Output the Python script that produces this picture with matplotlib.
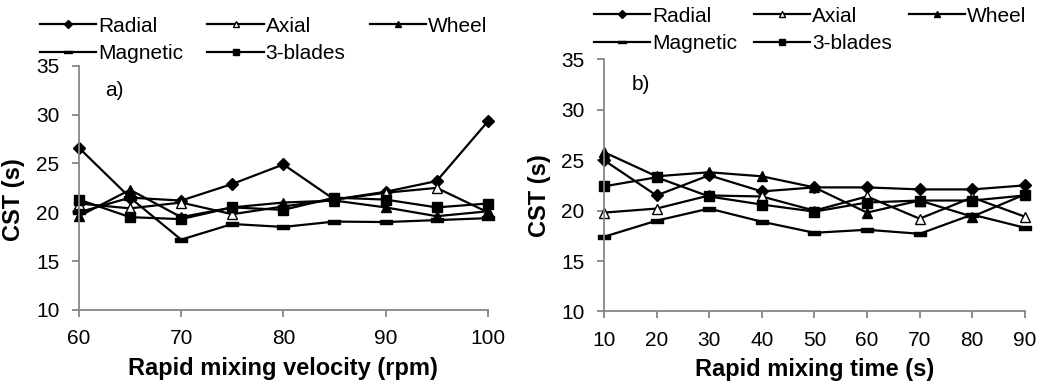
import matplotlib
matplotlib.use("Agg")
import matplotlib.pyplot as plt
from matplotlib.path import Path

plt.rcParams['font.family'] = ['Liberation Sans', 'DejaVu Sans']

# Panel a) rapid mixing velocity
velocity_rpm = [60, 65, 70, 75, 80, 85, 90, 95, 100]
radial_v = [26.6, 21.5, 21.2, 22.9, 24.9, 21.3, 22.1, 23.2, 29.3]
axial_v = [20.9, 20.4, 21.0, 19.8, 20.6, 21.3, 22.0, 22.5, 20.0]
wheel_v = [19.6, 22.3, 19.5, 20.5, 21.0, 21.2, 20.5, 19.6, 20.1]
magnetic_v = [20.0, 21.5, 17.2, 18.8, 18.5, 19.05, 19.0, 19.2, 19.4]
blades_v = [21.3, 19.5, 19.3, 20.5, 20.25, 21.5, 21.3, 20.5, 20.9]

# Panel b) rapid mixing time
time_s = [10, 20, 30, 40, 50, 60, 70, 80, 90]
radial_t = [25.0, 21.5, 23.5, 21.9, 22.3, 22.3, 22.1, 22.1, 22.5]
axial_t = [19.8, 20.2, 21.5, 21.4, 20.0, 21.4, 19.2, 21.3, 19.4]
wheel_t = [25.8, 23.4, 23.8, 23.4, 22.3, 19.8, 21.0, 19.4, 21.6]
magnetic_t = [17.4, 19.0, 20.2, 18.9, 17.8, 18.1, 17.7, 19.6, 18.3]
blades_t = [22.4, 23.3, 21.4, 20.6, 19.9, 20.8, 21.0, 21.0, 21.5]

labels = ['Radial', 'Axial', 'Wheel', 'Magnetic', '3-blades']
dash = Path([(-1, -0.3), (1, -0.3), (1, 0.3), (-1, 0.3), (-1, -0.3)],
            [Path.MOVETO, Path.LINETO, Path.LINETO, Path.LINETO, Path.CLOSEPOLY])
styles = {
    'Radial': dict(marker='D', ms=6.5, mfc='black'),
    'Axial': dict(marker='^', ms=7, mfc='white'),
    'Wheel': dict(marker='^', ms=7, mfc='black'),
    'Magnetic': dict(marker=dash, ms=9, mfc='black'),
    '3-blades': dict(marker='s', ms=7, mfc='black'),
}

fig = plt.figure(figsize=(10.43, 3.85), dpi=100)
ax_a = fig.add_axes([0.0757, 0.195, 0.392, 0.634])
ax_b = fig.add_axes([0.579, 0.191, 0.4036, 0.655])

gray = '#868686'


def draw(ax, x, series, xlabel, tag, xticks, ylab_xy, leg_xy, colspace):
    handles = {}
    for name, y in zip(labels, series):
        (h,) = ax.plot(x, y, color='black', lw=1.6, mec='black', mew=1.0,
                       clip_on=False, **styles[name])
        handles[name] = h
    ax.set_xlim(x[0], x[-1])
    ax.set_ylim(10, 35)
    ax.set_yticks([10, 15, 20, 25, 30, 35])
    ax.set_xticks(xticks)
    for s in ['top', 'right']:
        ax.spines[s].set_visible(False)
    for s in ['left', 'bottom']:
        ax.spines[s].set_color(gray)
        ax.spines[s].set_linewidth(1.3)
    ax.tick_params(axis='both', direction='out', length=5, width=1.3,
                   color=gray, labelsize=15, labelcolor='black')
    ax.tick_params(axis='y', pad=9)
    ax.tick_params(axis='x', pad=9)
    ax.set_xlabel(xlabel, fontsize=17, fontweight='bold', labelpad=6)
    ax.set_ylabel('CST (s)', fontsize=17, fontweight='bold')
    ax.yaxis.set_label_coords(*ylab_xy)
    ax.text(0.065, 0.9, tag, transform=ax.transAxes, fontsize=15,
            ha='left', va='center')
    order = ['Radial', 'Magnetic', 'Axial', '3-blades', 'Wheel']
    ax.legend([handles[k] for k in order], order, ncol=3, frameon=False,
              fontsize=15, markerscale=0.6, handlelength=2.7,
              handletextpad=0.1, columnspacing=colspace, labelspacing=0.4,
              borderaxespad=0, borderpad=0, loc='lower left',
              bbox_to_anchor=leg_xy)


draw(ax_a, velocity_rpm, [radial_v, axial_v, wheel_v, magnetic_v, blades_v],
     'Rapid mixing velocity (rpm)', 'a)', [60, 70, 80, 90, 100],
     (-0.132, 0.45), (-0.095, 1.012), 1.15)
draw(ax_b, time_s, [radial_t, axial_t, wheel_t, magnetic_t, blades_t],
     'Rapid mixing time (s)', 'b)', time_s,
     (-0.125, 0.46), (-0.024, 1.025), 0.8)

fig.savefig('out.png', dpi=100)
